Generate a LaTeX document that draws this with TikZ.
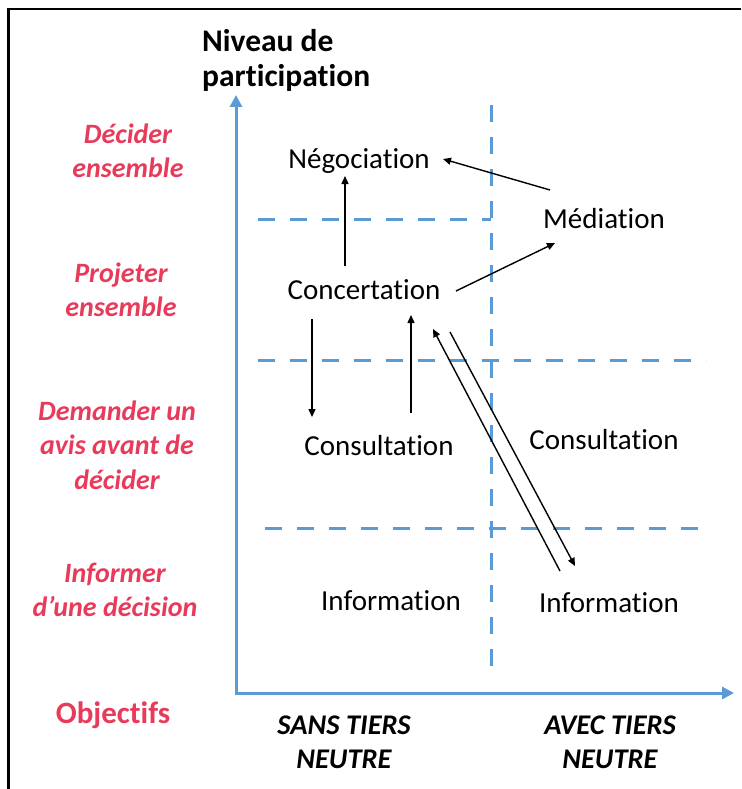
\documentclass[tikz,border=0pt]{standalone}
\usepackage{fontspec}
\setmainfont{Carlito}[Ligatures=CommonOff]
\usetikzlibrary{arrows.meta}
\definecolor{axblue}{RGB}{91,155,213}
\definecolor{lblred}{RGB}{232,58,90}
\begin{document}
\begin{tikzpicture}[x=1pt,y=-1pt,
  lbl/.style={text=lblred, font=\fontsize{28}{34.5}\selectfont\bfseries\itshape, align=center, inner sep=0pt},
  word/.style={font=\fontsize{29}{34}\selectfont, inner sep=0pt},
  bottomlbl/.style={font=\fontsize{28.5}{34}\selectfont\bfseries\itshape, align=center, inner sep=0pt},
  arr/.style={line width=1.4pt, -{Triangle[length=8pt,width=7pt]}},
  axisline/.style={draw=axblue, line width=3pt, line join=miter},
  dashline/.style={draw=axblue, line width=3pt, dash pattern=on 17pt off 15pt}]
\useasboundingbox (0,0) rectangle (741,789);
% frame
\draw[line width=2.5pt] (8.5,789) -- (8.5,9) -- (741,9);
% axes
\draw[axisline, {Triangle[length=12pt,width=12pt]}-{Triangle[length=12pt,width=12pt]}] (236,95) -- (236,693) -- (734,693);
% dashed grid
\draw[dashline] (491,105) -- (491,676);
\draw[dashline] (258,219) -- (491,219);
\draw[dashline] (258,360) -- (706,360);
\draw[dashline] (265,528) -- (706,528);
% title
\node[font=\fontsize{31.5}{35}\selectfont\bfseries, align=left, inner sep=0pt, anchor=west] (title) at (202,60) {Niveau de\\participation};
% left labels
\node[lbl] (decider) at (128,151) {Décider\\ensemble};
\node[lbl] (projeter) at (121,290) {Projeter\\ensemble};
\node[lbl] (demander) at (117,445) {Demander un\\avis avant de\\décider};
\node[lbl] (informer) at (115,590) {Informer\\d’une décision};
\node[text=lblred, font=\fontsize{31}{35}\selectfont\bfseries, inner sep=0pt] (objectifs) at (113,715) {Objectifs};
% bottom labels
\node[bottomlbl] (sans) at (344,742) {SANS TIERS\\NEUTRE};
\node[bottomlbl] (avec) at (610,742) {AVEC TIERS\\NEUTRE};
% words
\node[word] (nego) at (359,161) {Négociation};
\node[word] (medi) at (604,219) {Médiation};
\node[word] (conc) at (364,290) {Concertation};
\node[word] (consL) at (379,446) {Consultation};
\node[word] (consR) at (604,440) {Consultation};
\node[word] (infoL) at (391,601) {Information};
\node[word] (infoR) at (609,603) {Information};
% arrow end points
\coordinate (c2n) at (345,266); \coordinate (n2c) at (345,176);
\coordinate (m2n) at (550,190); \coordinate (n2m) at (443,159);
\coordinate (c2m) at (456,291); \coordinate (m2c) at (555,243);
\coordinate (c2cl) at (312,319); \coordinate (cl2c) at (312,417);
\coordinate (cl2cA) at (411,413); \coordinate (cl2cB) at (411,315);
\coordinate (ir2c) at (560,571); \coordinate (c2irA) at (433,329);
\coordinate (c2irB) at (450,332); \coordinate (ir2cA) at (575,566);
% arrows
\draw[arr] (c2n) -- (n2c);
\draw[arr] (m2n) -- (n2m);
\draw[arr] (c2m) -- (m2c);
\draw[arr] (c2cl) -- (cl2c);
\draw[arr] (cl2cA) -- (cl2cB);
\draw[arr] (ir2c) -- (c2irA);
\draw[arr] (c2irB) -- (ir2cA);
\end{tikzpicture}
\end{document}
